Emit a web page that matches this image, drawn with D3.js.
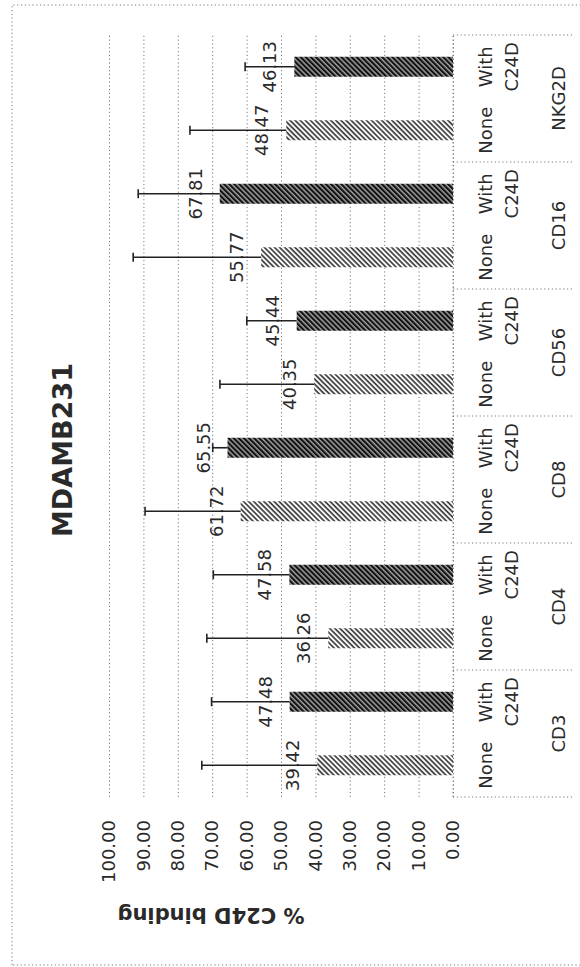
<!DOCTYPE html>
<html>
<head>
<meta charset="utf-8">
<script src="https://cdn.jsdelivr.net/npm/d3@7"></script>
<style>
  html, body { margin: 0; padding: 0; background: #fff; }
  svg { display: block; }
  text { font-family: "DejaVu Sans", sans-serif; fill: #2a2a2a; }
</style>
</head>
<body>
<svg id="chart" width="580" height="967"></svg>
<script>
// ---- data ----
const groups      = ["CD3", "CD4", "CD8", "CD56", "CD16", "NKG2D"];
const seriesNames = ["None", "With"];
const seriesSub   = ["", "C24D"];
const noneValues  = [39.42, 36.26, 61.72, 40.35, 55.77, 48.47];
const withValues  = [47.48, 47.58, 65.55, 45.44, 67.81, 46.13];
const noneErrors  = [33.6, 35.3, 27.8, 27.4, 37.2, 28.0];
const withErrors  = [22.7, 22.1, 4.3, 14.5, 23.7, 14.3];
const yTicks      = [0, 10, 20, 30, 40, 50, 60, 70, 80, 90, 100];
const chartTitle  = "MDAMB231";
const yTitle      = "% C24D binding";

// ---- layout: the chart is laid out landscape and turned a quarter turn ----
const W = 967;   // landscape width  (page height)
const svg = d3.select("#chart");
const root = svg.append("g").attr("transform", `translate(0,${W}) rotate(-90)`);

const plot = { left: 170, right: 932, top: 109, bottom: 453 };
const tableBottom = 573;

const x0 = d3.scaleBand().domain(groups).range([plot.left, plot.right]).padding(0);
const x1 = d3.scaleBand().domain(seriesNames).range([0, x0.bandwidth()])
  .paddingInner(0.685).paddingOuter(0.3425);
const y = d3.scaleLinear().domain([0, 100]).range([plot.bottom, plot.top]);

const rows = groups.map((g, i) => [
  { group: g, s: "None", v: noneValues[i], e: noneErrors[i] },
  { group: g, s: "With", v: withValues[i], e: withErrors[i] }
]).flat();
const cxOf = r => x0(r.group) + x1(r.s) + x1.bandwidth() / 2;

// hatch fills
const defs = svg.append("defs");
const light = defs.append("pattern").attr("id", "hatchLight")
  .attr("patternUnits", "userSpaceOnUse").attr("width", 3.6).attr("height", 3.6)
  .attr("patternTransform", "rotate(45)");
light.append("rect").attr("width", 3.6).attr("height", 3.6).attr("fill", "#fff");
light.append("line").attr("x1", 1).attr("y1", 0).attr("x2", 1).attr("y2", 3.6)
  .attr("stroke", "#3a3a3a").attr("stroke-width", 1.7);
const dark = defs.append("pattern").attr("id", "hatchDark")
  .attr("patternUnits", "userSpaceOnUse").attr("width", 3.6).attr("height", 3.6)
  .attr("patternTransform", "rotate(45)");
dark.append("rect").attr("width", 3.6).attr("height", 3.6).attr("fill", "#111");
dark.append("line").attr("x1", 1).attr("y1", 0).attr("x2", 1).attr("y2", 3.6)
  .attr("stroke", "#fff").attr("stroke-width", 0.9);

const dotted = sel => sel.attr("stroke", "#7a7a7a").attr("stroke-width", 1)
  .attr("stroke-dasharray", "1.2,2.6").attr("fill", "none");

// outer frame
root.append("rect").attr("x", 2).attr("y", 12).attr("width", 960).attr("height", 620)
  .call(dotted);

// gridlines
const grid = root.append("g").attr("transform", `translate(${plot.left},0)`)
  .call(d3.axisLeft(y).tickValues(yTicks).tickSize(-(plot.right - plot.left)).tickFormat(""));
grid.select(".domain").remove();
grid.selectAll(".tick line").call(dotted);

// value tick labels
const yAxis = root.append("g").attr("transform", `translate(${plot.left},0)`)
  .call(d3.axisLeft(y).tickValues(yTicks).tickSize(0).tickPadding(23).tickFormat(d3.format(".2f")));
yAxis.select(".domain").remove();
yAxis.selectAll("text").attr("font-size", 18).attr("fill", "#2a2a2a")
  .style("font-family", "DejaVu Sans, sans-serif");

// baseline / table left edge
root.append("line").attr("x1", plot.left).attr("x2", plot.right)
  .attr("y1", y(0)).attr("y2", y(0)).call(dotted);

// category table below the plot
const table = root.append("g");
const bounds = groups.map(g => x0(g)).concat([plot.right]);
table.selectAll("line.sep").data(bounds).join("line")
  .attr("x1", d => d).attr("x2", d => d)
  .attr("y1", y(0)).attr("y2", tableBottom).call(dotted);
rows.forEach(r => {
  const cx = cxOf(r);
  table.append("text").attr("x", cx).attr("y", 492).attr("text-anchor", "middle")
    .attr("font-size", 18).text(r.s);
  const sub = seriesSub[seriesNames.indexOf(r.s)];
  if (sub) table.append("text").attr("x", cx).attr("y", 518).attr("text-anchor", "middle")
    .attr("font-size", 18).text(sub);
});
table.selectAll("text.grp").data(groups).join("text")
  .attr("x", d => x0(d) + x0.bandwidth() / 2).attr("y", 565)
  .attr("text-anchor", "middle").attr("font-size", 18).text(d => d);

// bars
root.append("g").selectAll("rect").data(rows).join("rect")
  .attr("x", d => x0(d.group) + x1(d.s))
  .attr("width", x1.bandwidth())
  .attr("y", d => y(d.v))
  .attr("height", d => y(0) - y(d.v))
  .attr("fill", d => d.s === "None" ? "url(#hatchLight)" : "url(#hatchDark)");

// value labels
root.append("g").selectAll("text").data(rows).join("text")
  .attr("x", cxOf)
  .attr("y", d => y(d.v) - 18)
  .attr("text-anchor", "middle").attr("font-size", 18)
  .text(d => d3.format(".2f")(d.v));

// error bars (upper side)
const eb = root.append("g").attr("stroke", "#222").attr("stroke-width", 1.6);
rows.forEach(r => {
  const cx = cxOf(r);
  eb.append("line").attr("x1", cx).attr("x2", cx).attr("y1", y(r.v)).attr("y2", y(r.v + r.e));
  eb.append("line").attr("x1", cx - 4.5).attr("x2", cx + 4.5)
    .attr("y1", y(r.v + r.e)).attr("y2", y(r.v + r.e));
});

// titles
root.append("text").attr("x", 517).attr("y", 72).attr("text-anchor", "middle")
  .attr("font-size", 27).attr("font-weight", "bold").text(chartTitle);
root.append("text").attr("transform", "translate(59,211) rotate(-90)")
  .attr("text-anchor", "middle").attr("font-size", 21).attr("font-weight", "bold").text(yTitle);
</script>
</body>
</html>
